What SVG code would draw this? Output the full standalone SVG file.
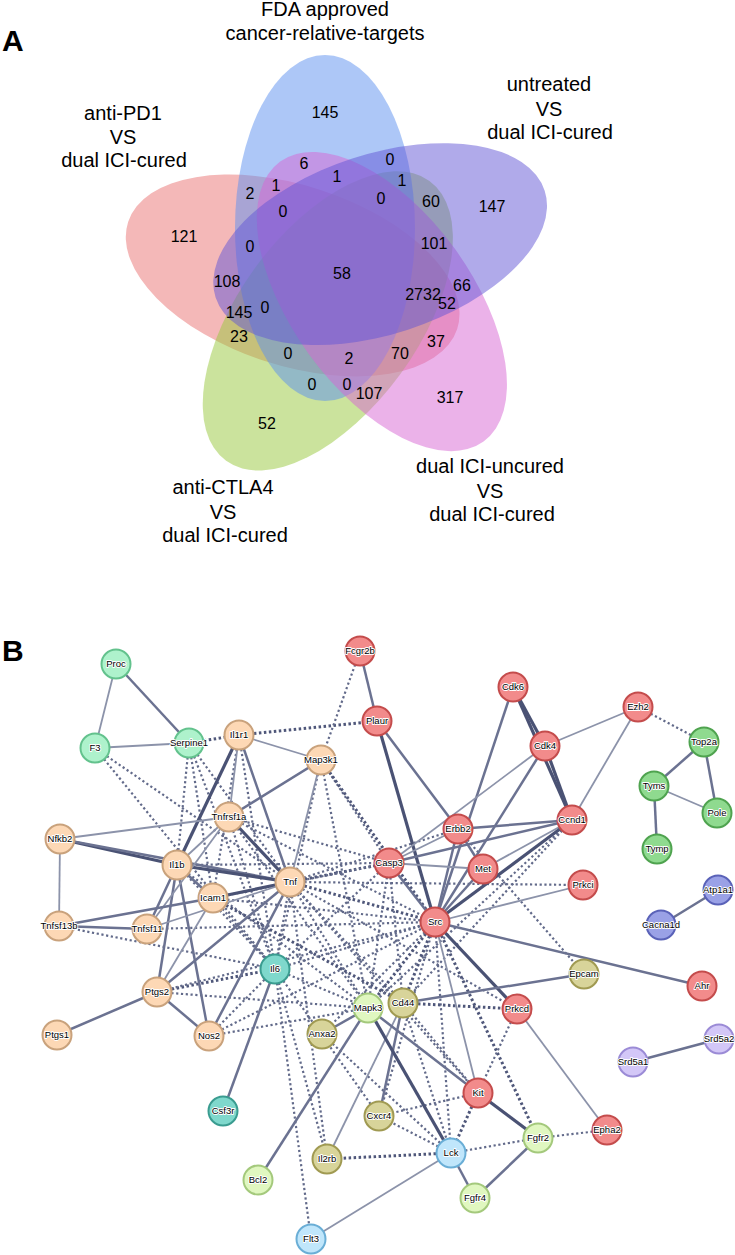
<svg xmlns="http://www.w3.org/2000/svg" width="735" height="1255" viewBox="0 0 735 1255">
<style>
text{font-family:"Liberation Sans",Arial,sans-serif;fill:#000}
.lab{font-size:20px;text-anchor:middle}
.num{font-size:16px;text-anchor:middle}
.pl{font-size:30px;font-weight:bold}
.s1{stroke:#8c93aa;stroke-width:1.8;fill:none}
.s2{stroke:#6b7291;stroke-width:2.5;fill:none}
.s3{stroke:#4a5274;stroke-width:3.2;fill:none}
.d1{stroke:#626a8a;stroke-width:2.2;stroke-dasharray:2.2 2.6;fill:none}
.d2{stroke:#4f577a;stroke-width:3;stroke-dasharray:2.5 2.5;fill:none}
.n circle{stroke-width:2}
.n text{font-size:9.5px;text-anchor:middle;fill:#000;stroke:#fff;stroke-width:1.8;paint-order:stroke;stroke-linejoin:round}
.mint circle{fill:#aef2cc;stroke:#63c28d}
.peach circle{fill:#fdd8b5;stroke:#c9a27c}
.red circle{fill:#f28b8b;stroke:#c44c4c}
.grn circle{fill:#8fda8f;stroke:#4fa34f}
.blu circle{fill:#9aa1e6;stroke:#5a62b8}
.teal circle{fill:#7fd8cc;stroke:#3a9c90}
.olv circle{fill:#d8d49a;stroke:#a09a52}
.lgr circle{fill:#e0f7c0;stroke:#a4c97c}
.lbl circle{fill:#c0e6fb;stroke:#6aaed6}
.lav circle{fill:#d3c7f7;stroke:#9b8bd6}
</style>
<rect width="735" height="1255" fill="#fff"/>
<g id="panelA">
<text class="pl" x="2" y="51">A</text>
<g id="venn-sets" fill-opacity="0.5">
<ellipse id="set-antiPD1" cx="325" cy="228" rx="90" ry="173" fill="#ea7272" transform="rotate(-72 341.5 274)"/>
<ellipse id="set-antiCTLA4" cx="325" cy="228" rx="90" ry="173" fill="#98c83c" transform="rotate(216 341.5 274)"/>
<ellipse id="set-FDA" cx="325" cy="228" rx="90" ry="173" fill="#5b8ff0"/>
<ellipse id="set-uncured" cx="325" cy="228" rx="90" ry="173" fill="#d866d4" transform="rotate(144 341.5 274)"/>
<ellipse id="set-untreated" cx="325" cy="228" rx="90" ry="173" fill="#6256d6" transform="rotate(72 341.5 274)"/>
</g>
<g id="venn-labels">
<text class="lab" x="325" y="16">FDA approved</text>
<text class="lab" x="325" y="40">cancer-relative-targets</text>
<text class="lab" x="123" y="120">anti-PD1</text>
<text class="lab" x="123" y="144">VS</text>
<text class="lab" x="124" y="167">dual ICI-cured</text>
<text class="lab" x="549" y="91">untreated</text>
<text class="lab" x="549" y="116">VS</text>
<text class="lab" x="550" y="139">dual ICI-cured</text>
<text class="lab" x="223" y="494">anti-CTLA4</text>
<text class="lab" x="223" y="519">VS</text>
<text class="lab" x="225" y="542">dual ICI-cured</text>
<text class="lab" x="490" y="473">dual ICI-uncured</text>
<text class="lab" x="490" y="498">VS</text>
<text class="lab" x="492" y="521">dual ICI-cured</text>
</g>
<g id="venn-counts">
<text class="num" x="325" y="118">145</text>
<text class="num" x="304" y="169">6</text>
<text class="num" x="390" y="165">0</text>
<text class="num" x="337" y="182">1</text>
<text class="num" x="402" y="186">1</text>
<text class="num" x="250" y="199">2</text>
<text class="num" x="276" y="191">1</text>
<text class="num" x="381" y="204">0</text>
<text class="num" x="431" y="207">60</text>
<text class="num" x="492" y="212">147</text>
<text class="num" x="283" y="217">0</text>
<text class="num" x="184" y="242">121</text>
<text class="num" x="250" y="252">0</text>
<text class="num" x="434" y="249">101</text>
<text class="num" x="227" y="287">108</text>
<text class="num" x="342" y="279">58</text>
<text class="num" x="423" y="300">2732</text>
<text class="num" x="462" y="291">66</text>
<text class="num" x="447" y="309">52</text>
<text class="num" x="239" y="318">145</text>
<text class="num" x="265" y="313">0</text>
<text class="num" x="239" y="342">23</text>
<text class="num" x="436" y="347">37</text>
<text class="num" x="288" y="359">0</text>
<text class="num" x="349" y="364">2</text>
<text class="num" x="400" y="359">70</text>
<text class="num" x="312" y="390">0</text>
<text class="num" x="347" y="390">0</text>
<text class="num" x="369" y="399">107</text>
<text class="num" x="450" y="403">317</text>
<text class="num" x="267" y="429">52</text>
</g>
</g>
<g id="panelB">
<text class="pl" x="2" y="661">B</text>
<g id="connectors">
<line class="d2" x1="189" y1="743" x2="239" y2="735"/>
<line class="d2" x1="239" y1="735" x2="377" y2="721"/>
<line class="d1" x1="360" y1="651" x2="321" y2="760"/>
<line class="d1" x1="95" y1="748" x2="290" y2="882"/>
<line class="d1" x1="95" y1="748" x2="275" y2="969"/>
<line class="d1" x1="189" y1="743" x2="177" y2="865"/>
<line class="d1" x1="189" y1="743" x2="290" y2="882"/>
<line class="d1" x1="189" y1="743" x2="213" y2="898"/>
<line class="d1" x1="189" y1="743" x2="275" y2="969"/>
<line class="d1" x1="239" y1="735" x2="213" y2="898"/>
<line class="d1" x1="239" y1="735" x2="275" y2="969"/>
<line class="d1" x1="321" y1="760" x2="389" y2="863"/>
<line class="d2" x1="321" y1="760" x2="435" y2="922"/>
<line class="d1" x1="321" y1="760" x2="368" y2="1008"/>
<line class="d1" x1="321" y1="760" x2="275" y2="969"/>
<line class="d1" x1="229" y1="817" x2="389" y2="863"/>
<line class="d1" x1="229" y1="817" x2="435" y2="922"/>
<line class="d1" x1="229" y1="817" x2="368" y2="1008"/>
<line class="d1" x1="229" y1="817" x2="275" y2="969"/>
<line class="d1" x1="177" y1="865" x2="389" y2="863"/>
<line class="d1" x1="177" y1="865" x2="275" y2="969"/>
<line class="d1" x1="177" y1="865" x2="368" y2="1008"/>
<line class="d2" x1="290" y1="882" x2="389" y2="863"/>
<line class="d2" x1="290" y1="882" x2="435" y2="922"/>
<line class="d1" x1="290" y1="882" x2="583" y2="885"/>
<line class="d1" x1="290" y1="882" x2="368" y2="1008"/>
<line class="d1" x1="290" y1="882" x2="403" y2="1003"/>
<line class="d1" x1="290" y1="882" x2="275" y2="969"/>
<line class="d1" x1="290" y1="882" x2="478" y2="1093"/>
<line class="d1" x1="290" y1="882" x2="327" y2="1159"/>
<line class="d1" x1="290" y1="882" x2="517" y2="1009"/>
<line class="d1" x1="290" y1="882" x2="458" y2="829"/>
<line class="d1" x1="213" y1="898" x2="435" y2="922"/>
<line class="d1" x1="213" y1="898" x2="389" y2="863"/>
<line class="d1" x1="213" y1="898" x2="275" y2="969"/>
<line class="d2" x1="213" y1="898" x2="403" y2="1003"/>
<line class="d1" x1="59" y1="926" x2="275" y2="969"/>
<line class="d1" x1="147" y1="929" x2="435" y2="922"/>
<line class="d2" x1="157" y1="992" x2="275" y2="969"/>
<line class="d1" x1="157" y1="992" x2="368" y2="1008"/>
<line class="d1" x1="157" y1="992" x2="435" y2="922"/>
<line class="d1" x1="209" y1="1036" x2="275" y2="969"/>
<line class="d1" x1="209" y1="1036" x2="435" y2="922"/>
<line class="d1" x1="209" y1="1036" x2="368" y2="1008"/>
<line class="d1" x1="275" y1="969" x2="368" y2="1008"/>
<line class="d1" x1="275" y1="969" x2="435" y2="922"/>
<line class="d1" x1="275" y1="969" x2="327" y2="1159"/>
<line class="d1" x1="275" y1="969" x2="311" y2="1239"/>
<line class="d1" x1="275" y1="969" x2="379" y2="1116"/>
<line class="d1" x1="275" y1="969" x2="389" y2="863"/>
<line class="d1" x1="389" y1="863" x2="368" y2="1008"/>
<line class="d1" x1="389" y1="863" x2="403" y2="1003"/>
<line class="d2" x1="435" y1="922" x2="368" y2="1008"/>
<line class="d2" x1="435" y1="922" x2="403" y2="1003"/>
<line class="d1" x1="435" y1="922" x2="451" y2="1153"/>
<line class="d2" x1="435" y1="922" x2="538" y2="1138"/>
<line class="d1" x1="435" y1="922" x2="379" y2="1116"/>
<line class="d1" x1="435" y1="922" x2="322" y2="1034"/>
<line class="d1" x1="458" y1="829" x2="584" y2="974"/>
<line class="d1" x1="572" y1="820" x2="368" y2="1008"/>
<line class="d1" x1="572" y1="820" x2="403" y2="1003"/>
<line class="d2" x1="403" y1="1003" x2="517" y2="1009"/>
<line class="d1" x1="403" y1="1003" x2="451" y2="1153"/>
<line class="d1" x1="403" y1="1003" x2="478" y2="1093"/>
<line class="d1" x1="517" y1="1009" x2="478" y2="1093"/>
<line class="d1" x1="478" y1="1093" x2="379" y2="1116"/>
<line class="d2" x1="478" y1="1093" x2="451" y2="1153"/>
<line class="d1" x1="451" y1="1153" x2="538" y2="1138"/>
<line class="d2" x1="451" y1="1153" x2="327" y2="1159"/>
<line class="d1" x1="451" y1="1153" x2="379" y2="1116"/>
<line class="d1" x1="538" y1="1138" x2="607" y2="1130"/>
<line class="d1" x1="638" y1="707" x2="704" y2="742"/>
<line class="d1" x1="322" y1="1034" x2="451" y2="1153"/>
<line class="s1" x1="116" y1="664" x2="95" y2="748"/>
<line class="s2" x1="116" y1="664" x2="189" y2="743"/>
<line class="s1" x1="95" y1="748" x2="189" y2="743"/>
<line class="s1" x1="239" y1="735" x2="321" y2="760"/>
<line class="s1" x1="239" y1="735" x2="229" y2="817"/>
<line class="s3" x1="239" y1="735" x2="177" y2="865"/>
<line class="s2" x1="239" y1="735" x2="290" y2="882"/>
<line class="s2" x1="321" y1="760" x2="229" y2="817"/>
<line class="s1" x1="321" y1="760" x2="290" y2="882"/>
<line class="s1" x1="60" y1="839" x2="229" y2="817"/>
<line class="s3" x1="60" y1="839" x2="177" y2="865"/>
<line class="s2" x1="60" y1="839" x2="290" y2="882"/>
<line class="s1" x1="60" y1="839" x2="59" y2="926"/>
<line class="s3" x1="177" y1="865" x2="290" y2="882"/>
<line class="s1" x1="177" y1="865" x2="229" y2="817"/>
<line class="s2" x1="177" y1="865" x2="213" y2="898"/>
<line class="s2" x1="177" y1="865" x2="147" y2="929"/>
<line class="s2" x1="177" y1="865" x2="157" y2="992"/>
<line class="s2" x1="177" y1="865" x2="209" y2="1036"/>
<line class="s3" x1="229" y1="817" x2="290" y2="882"/>
<line class="s1" x1="229" y1="817" x2="147" y2="929"/>
<line class="s3" x1="213" y1="898" x2="290" y2="882"/>
<line class="s2" x1="213" y1="898" x2="59" y2="926"/>
<line class="s1" x1="213" y1="898" x2="157" y2="992"/>
<line class="s2" x1="59" y1="926" x2="147" y2="929"/>
<line class="s1" x1="147" y1="929" x2="290" y2="882"/>
<line class="s2" x1="290" y1="882" x2="157" y2="992"/>
<line class="s2" x1="290" y1="882" x2="209" y2="1036"/>
<line class="s2" x1="157" y1="992" x2="209" y2="1036"/>
<line class="s2" x1="157" y1="992" x2="57" y2="1035"/>
<line class="s2" x1="275" y1="969" x2="223" y2="1111"/>
<line class="s2" x1="360" y1="651" x2="377" y2="721"/>
<line class="s3" x1="377" y1="721" x2="435" y2="922"/>
<line class="s2" x1="377" y1="721" x2="458" y2="829"/>
<line class="s2" x1="458" y1="829" x2="483" y2="869"/>
<line class="s3" x1="513" y1="687" x2="545" y2="746"/>
<line class="s3" x1="513" y1="687" x2="572" y2="820"/>
<line class="s2" x1="513" y1="687" x2="435" y2="922"/>
<line class="s3" x1="545" y1="746" x2="572" y2="820"/>
<line class="s1" x1="545" y1="746" x2="638" y2="707"/>
<line class="s1" x1="545" y1="746" x2="389" y2="863"/>
<line class="s2" x1="545" y1="746" x2="435" y2="922"/>
<line class="s1" x1="638" y1="707" x2="572" y2="820"/>
<line class="s2" x1="704" y1="742" x2="654" y2="786"/>
<line class="s2" x1="704" y1="742" x2="717" y2="813"/>
<line class="s1" x1="654" y1="786" x2="717" y2="813"/>
<line class="s2" x1="654" y1="786" x2="657" y2="849"/>
<line class="s2" x1="572" y1="820" x2="458" y2="829"/>
<line class="s2" x1="572" y1="820" x2="389" y2="863"/>
<line class="s1" x1="572" y1="820" x2="483" y2="869"/>
<line class="s3" x1="572" y1="820" x2="435" y2="922"/>
<line class="s1" x1="458" y1="829" x2="389" y2="863"/>
<line class="s2" x1="458" y1="829" x2="435" y2="922"/>
<line class="s1" x1="389" y1="863" x2="483" y2="869"/>
<line class="s2" x1="389" y1="863" x2="435" y2="922"/>
<line class="s2" x1="483" y1="869" x2="435" y2="922"/>
<line class="s1" x1="583" y1="885" x2="435" y2="922"/>
<line class="s2" x1="718" y1="890" x2="661" y2="925"/>
<line class="s2" x1="435" y1="922" x2="702" y2="986"/>
<line class="s3" x1="435" y1="922" x2="517" y2="1009"/>
<line class="s1" x1="435" y1="922" x2="478" y2="1093"/>
<line class="s2" x1="403" y1="1003" x2="584" y2="974"/>
<line class="s2" x1="403" y1="1003" x2="379" y2="1116"/>
<line class="s1" x1="403" y1="1003" x2="327" y2="1159"/>
<line class="s2" x1="368" y1="1008" x2="478" y2="1093"/>
<line class="s3" x1="368" y1="1008" x2="451" y2="1153"/>
<line class="s2" x1="368" y1="1008" x2="322" y2="1034"/>
<line class="s2" x1="368" y1="1008" x2="258" y2="1180"/>
<line class="s1" x1="517" y1="1009" x2="607" y2="1130"/>
<line class="s3" x1="478" y1="1093" x2="538" y2="1138"/>
<line class="s2" x1="451" y1="1153" x2="475" y2="1198"/>
<line class="s1" x1="451" y1="1153" x2="311" y2="1239"/>
<line class="s2" x1="538" y1="1138" x2="475" y2="1198"/>
<line class="s2" x1="633" y1="1062" x2="719" y2="1039"/>
</g>
<g id="nodes">
<g id="n-Proc" class="n mint"><circle cx="116" cy="664" r="14.5"/><text x="116" y="667">Proc</text></g>
<g id="n-F3" class="n mint"><circle cx="95" cy="748" r="14.5"/><text x="95" y="751">F3</text></g>
<g id="n-Serpine1" class="n mint"><circle cx="189" cy="743" r="14.5"/><text x="189" y="746">Serpine1</text></g>
<g id="n-Il1r1" class="n peach"><circle cx="239" cy="735" r="14.5"/><text x="239" y="738">Il1r1</text></g>
<g id="n-Map3k1" class="n peach"><circle cx="321" cy="760" r="14.5"/><text x="321" y="763">Map3k1</text></g>
<g id="n-Tnfrsf1a" class="n peach"><circle cx="229" cy="817" r="14.5"/><text x="229" y="820">Tnfrsf1a</text></g>
<g id="n-Nfkb2" class="n peach"><circle cx="60" cy="839" r="14.5"/><text x="60" y="842">Nfkb2</text></g>
<g id="n-Il1b" class="n peach"><circle cx="177" cy="865" r="14.5"/><text x="177" y="868">Il1b</text></g>
<g id="n-Tnf" class="n peach"><circle cx="290" cy="882" r="14.5"/><text x="290" y="885">Tnf</text></g>
<g id="n-Icam1" class="n peach"><circle cx="213" cy="898" r="14.5"/><text x="213" y="901">Icam1</text></g>
<g id="n-Tnfsf13b" class="n peach"><circle cx="59" cy="926" r="14.5"/><text x="59" y="929">Tnfsf13b</text></g>
<g id="n-Tnfsf11" class="n peach"><circle cx="147" cy="929" r="14.5"/><text x="147" y="932">Tnfsf11</text></g>
<g id="n-Ptgs2" class="n peach"><circle cx="157" cy="992" r="14.5"/><text x="157" y="995">Ptgs2</text></g>
<g id="n-Ptgs1" class="n peach"><circle cx="57" cy="1035" r="14.5"/><text x="57" y="1038">Ptgs1</text></g>
<g id="n-Nos2" class="n peach"><circle cx="209" cy="1036" r="14.5"/><text x="209" y="1039">Nos2</text></g>
<g id="n-Il6" class="n teal"><circle cx="275" cy="969" r="14.5"/><text x="275" y="972">Il6</text></g>
<g id="n-Csf3r" class="n teal"><circle cx="223" cy="1111" r="14.5"/><text x="223" y="1114">Csf3r</text></g>
<g id="n-Fcgr2b" class="n red"><circle cx="360" cy="651" r="14.5"/><text x="360" y="654">Fcgr2b</text></g>
<g id="n-Plaur" class="n red"><circle cx="377" cy="721" r="14.5"/><text x="377" y="724">Plaur</text></g>
<g id="n-Cdk6" class="n red"><circle cx="513" cy="687" r="14.5"/><text x="513" y="690">Cdk6</text></g>
<g id="n-Ezh2" class="n red"><circle cx="638" cy="707" r="14.5"/><text x="638" y="710">Ezh2</text></g>
<g id="n-Cdk4" class="n red"><circle cx="545" cy="746" r="14.5"/><text x="545" y="749">Cdk4</text></g>
<g id="n-Ccnd1" class="n red"><circle cx="572" cy="820" r="14.5"/><text x="572" y="823">Ccnd1</text></g>
<g id="n-Erbb2" class="n red"><circle cx="458" cy="829" r="14.5"/><text x="458" y="832">Erbb2</text></g>
<g id="n-Casp3" class="n red"><circle cx="389" cy="863" r="14.5"/><text x="389" y="866">Casp3</text></g>
<g id="n-Met" class="n red"><circle cx="483" cy="869" r="14.5"/><text x="483" y="872">Met</text></g>
<g id="n-Prkci" class="n red"><circle cx="583" cy="885" r="14.5"/><text x="583" y="888">Prkci</text></g>
<g id="n-Src" class="n red"><circle cx="435" cy="922" r="14.5"/><text x="435" y="925">Src</text></g>
<g id="n-Ahr" class="n red"><circle cx="702" cy="986" r="14.5"/><text x="702" y="989">Ahr</text></g>
<g id="n-Prkcd" class="n red"><circle cx="517" cy="1009" r="14.5"/><text x="517" y="1012">Prkcd</text></g>
<g id="n-Kit" class="n red"><circle cx="478" cy="1093" r="14.5"/><text x="478" y="1096">Kit</text></g>
<g id="n-Epha2" class="n red"><circle cx="607" cy="1130" r="14.5"/><text x="607" y="1133">Epha2</text></g>
<g id="n-Top2a" class="n grn"><circle cx="704" cy="742" r="14.5"/><text x="704" y="745">Top2a</text></g>
<g id="n-Tyms" class="n grn"><circle cx="654" cy="786" r="14.5"/><text x="654" y="789">Tyms</text></g>
<g id="n-Pole" class="n grn"><circle cx="717" cy="813" r="14.5"/><text x="717" y="816">Pole</text></g>
<g id="n-Tymp" class="n grn"><circle cx="657" cy="849" r="14.5"/><text x="657" y="852">Tymp</text></g>
<g id="n-Atp1a1" class="n blu"><circle cx="718" cy="890" r="14.5"/><text x="718" y="893">Atp1a1</text></g>
<g id="n-Cacna1d" class="n blu"><circle cx="661" cy="925" r="14.5"/><text x="661" y="928">Cacna1d</text></g>
<g id="n-Epcam" class="n olv"><circle cx="584" cy="974" r="14.5"/><text x="584" y="977">Epcam</text></g>
<g id="n-Cd44" class="n olv"><circle cx="403" cy="1003" r="14.5"/><text x="403" y="1006">Cd44</text></g>
<g id="n-Anxa2" class="n olv"><circle cx="322" cy="1034" r="14.5"/><text x="322" y="1037">Anxa2</text></g>
<g id="n-Cxcr4" class="n olv"><circle cx="379" cy="1116" r="14.5"/><text x="379" y="1119">Cxcr4</text></g>
<g id="n-Il2rb" class="n olv"><circle cx="327" cy="1159" r="14.5"/><text x="327" y="1162">Il2rb</text></g>
<g id="n-Mapk3" class="n lgr"><circle cx="368" cy="1008" r="14.5"/><text x="368" y="1011">Mapk3</text></g>
<g id="n-Bcl2" class="n lgr"><circle cx="258" cy="1180" r="14.5"/><text x="258" y="1183">Bcl2</text></g>
<g id="n-Fgfr2" class="n lgr"><circle cx="538" cy="1138" r="14.5"/><text x="538" y="1141">Fgfr2</text></g>
<g id="n-Fgfr4" class="n lgr"><circle cx="475" cy="1198" r="14.5"/><text x="475" y="1201">Fgfr4</text></g>
<g id="n-Lck" class="n lbl"><circle cx="451" cy="1153" r="14.5"/><text x="451" y="1156">Lck</text></g>
<g id="n-Flt3" class="n lbl"><circle cx="311" cy="1239" r="14.5"/><text x="311" y="1242">Flt3</text></g>
<g id="n-Srd5a1" class="n lav"><circle cx="633" cy="1062" r="14.5"/><text x="633" y="1065">Srd5a1</text></g>
<g id="n-Srd5a2" class="n lav"><circle cx="719" cy="1039" r="14.5"/><text x="719" y="1042">Srd5a2</text></g>
</g>
</g>
</svg>
